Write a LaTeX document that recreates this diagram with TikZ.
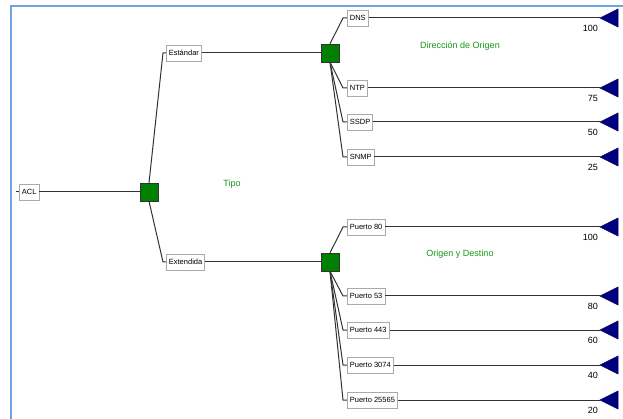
\documentclass[tikz,border=0pt]{standalone}
\usepackage{fontspec}
\setmainfont{Liberation Sans}
\usepackage{xcolor}
\definecolor{framecolor}{RGB}{110, 165, 225}
\definecolor{decisiongreen}{RGB}{0, 128, 0}
\definecolor{labelgreen}{RGB}{20, 150, 20}
\definecolor{endnavy}{RGB}{0, 0, 128}
\definecolor{linegray}{RGB}{50, 50, 50}
\definecolor{boxgray}{RGB}{170, 170, 170}
\usepackage{tikz}
\usetikzlibrary{positioning, calc}

\tikzset{
    optionbox/.style={draw=boxgray, fill=white, line width=0.8pt, anchor=west, font=\fontsize{7.5}{8}\selectfont, inner xsep=2.5pt, inner ysep=0pt, minimum height=16pt},
    decision/.style={draw=black!80, fill=decisiongreen, minimum size=18pt, inner sep=0pt},
    branch/.style={linegray, line width=1pt},
    tag/.style={labelgreen, font=\fontsize{9}{10}\selectfont},
    payoff/.style={anchor=east, inner sep=0pt, font=\fontsize{9}{10}\selectfont}
}

\begin{document}
\begin{tikzpicture}[x=1pt, y=-1pt]
    \useasboundingbox (0,0) rectangle (623,419);
    \draw[framecolor, line width=1.5pt] (11,419) -- (11,6) -- (623,6);

    % decision nodes
    \node[optionbox] (acl) at (19,192) {ACL};
    \node[decision] (tipo) at (149,192) {};
    \node[optionbox] (estandar) at (166,53) {Estándar};
    \node[optionbox] (extendida) at (166,262) {Extendida};
    \node[decision] (origen) at (330,53) {};
    \node[decision] (destino) at (330,262) {};
    \node[tag] (tipolbl) at (232,184) {Tipo};
    \node[tag] (origenlbl) at (460,46) {Dirección de Origen};
    \node[tag] (destinolbl) at (460,254) {Origen y Destino};

    \draw[branch] (acl.west) -- ++(-3,0);
    \draw[branch] (acl.east) -- (tipo.west);
    \draw[branch] (tipo.north) -- ([xshift=-3pt]estandar.west) -- (estandar.west);
    \draw[branch] (tipo.south) -- ([xshift=-3pt]extendida.west) -- (extendida.west);
    \draw[branch] (estandar.east) -- (origen.west);
    \draw[branch] (extendida.east) -- (destino.west);

    % outcomes
    \foreach \name/\txt/\y/\val/\from in {dns/DNS/18/100/origen.north, ntp/NTP/88/75/origen.south, ssdp/SSDP/122/50/origen.south, snmp/SNMP/157/25/origen.south, p80/Puerto 80/227/100/destino.north, p53/Puerto 53/296/80/destino.south, p443/Puerto 443/330/60/destino.south, p3074/Puerto 3074/365/40/destino.south, p25565/Puerto 25565/400/20/destino.south} {
        \node[optionbox] (\name) at (347,\y) {\txt};
        \coordinate (\name end) at (600,\y);
        \draw[branch] (\from) -- ([xshift=-4pt]\name.west) -- (\name.west);
        \draw[branch] (\name.east) -- (\name end);
        \filldraw[fill=endnavy, draw=endnavy!70!black, line width=0.6pt] (\name end) -- ++(18,-9) -- ++(0,18) -- cycle;
        \node[payoff] (\name val) at (598,\y+10) {\val};
    }
\end{tikzpicture}
\end{document}
